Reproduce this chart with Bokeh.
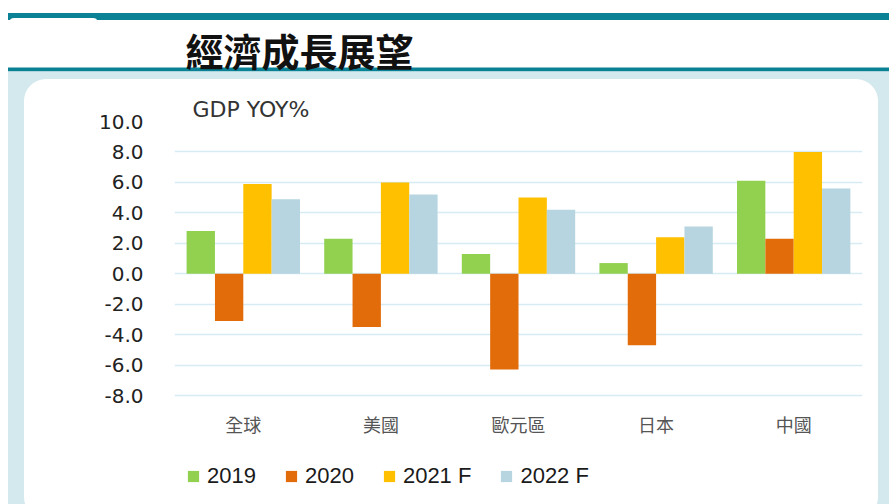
from urllib.parse import quote
from bokeh.plotting import figure
from bokeh.models import Range1d, FactorRange, FixedTicker, Title, Legend, LegendItem
from bokeh.core.properties import value
from bokeh.transform import dodge
from bokeh.embed import file_html
from bokeh.resources import INLINE

# ---- data ----
categories = ["全球", "美國", "歐元區", "日本", "中國"]
series_names = ["2019", "2020", "2021 F", "2022 F"]
v2019 = [2.8, 2.3, 1.3, 0.7, 6.1]
v2020 = [-3.1, -3.5, -6.3, -4.7, 2.3]
v2021 = [5.9, 6.0, 5.0, 2.4, 8.0]
v2022 = [4.9, 5.2, 4.2, 3.1, 5.6]
y_ticks = [-8, -6, -4, -2, 0, 2, 4, 6, 8, 10]
y_tick_labels = ["-8.0", "-6.0", "-4.0", "-2.0", "0.0", "2.0", "4.0", "6.0", "8.0", "10.0"]
title_text = "經濟成長展望"
unit_text = "GDP YOY%"

colors = ["#92d050", "#e36c0a", "#ffc000", "#b7d5e0"]
series_values = [v2019, v2020, v2021, v2022]

W, H = 889, 504
TOP, LEFT, RIGHT = 121, 174, 27
FRAME_W = W - LEFT - RIGHT
FRAME_H = H - TOP
Y_MAX, Y_LOW_TICK = 10, -8
PX_PER_UNIT = 274 / (Y_MAX - Y_LOW_TICK)          # 10.0 .. -8.0 spans 274 px
Y_MIN = Y_MAX - FRAME_H / PX_PER_UNIT             # frame extends down to hold labels + legend
CAT_LABEL_Y = Y_LOW_TICK - 28 / PX_PER_UNIT       # category labels just below the -8 line

# decorative background (teal rules, light-blue band, white rounded panel)
bg_svg = (
    f"<svg xmlns='http://www.w3.org/2000/svg' width='{W}' height='{H}'>"
    f"<rect x='8' y='13' width='{W}' height='7' fill='#0b8196'/>"
    "<rect x='10' y='18' width='87' height='5' rx='4' fill='white'/>"
    f"<rect x='8' y='67.5' width='{W}' height='4' fill='#0b8196'/>"
    f"<rect x='8' y='71.5' width='{W}' height='{H}' fill='#d3e9ee'/>"
    "<rect x='24' y='79' width='854' height='440' rx='22' fill='white'/>"
    "</svg>"
)
bg_url = "url(\"data:image/svg+xml;utf8," + quote(bg_svg) + "\")"

p = figure(frame_width=FRAME_W, frame_height=FRAME_H,
           x_range=FactorRange(*categories), y_range=Range1d(Y_MIN, Y_MAX),
           output_backend="svg", toolbar_location=None, x_axis_location=None,
           min_border_left=LEFT, min_border_right=RIGHT, min_border_top=TOP, min_border_bottom=0,
           styles={"background-image": bg_url, "background-repeat": "no-repeat",
                   "background-size": f"{W}px {H}px"})
p.background_fill_color = None
p.border_fill_color = None
p.outline_line_color = None

# ---- bars ----
src = {"cat": categories}
for name, vals in zip(series_names, series_values):
    src[name] = vals
offsets = [-0.309, -0.103, 0.103, 0.309]
renderers = []
for name, col, off in zip(series_names, colors, offsets):
    r = p.vbar(x=dodge("cat", off, range=p.x_range), top=name, bottom=0, width=0.206,
               source=src, fill_color=col, line_color=None)
    renderers.append(r)

# ---- category labels (on the categorical scale) ----
p.text(x=categories, y=[CAT_LABEL_Y] * len(categories), text=categories,
       text_align="center", text_baseline="middle",
       text_font=value("Noto Sans CJK TC"), text_font_size="18px", text_color="#555555")

# ---- y axis ----
p.yaxis.ticker = FixedTicker(ticks=y_ticks)
p.yaxis.major_label_overrides = {t: l for t, l in zip(y_ticks, y_tick_labels)}
p.yaxis.axis_line_color = None
p.yaxis.major_tick_line_color = None
p.yaxis.major_tick_out = 0
p.yaxis.major_tick_in = 0
p.yaxis.minor_tick_line_color = None
p.yaxis.minor_tick_out = 0
p.yaxis.major_label_standoff = 31
p.yaxis.major_label_text_font = "DejaVu Sans"
p.yaxis.major_label_text_font_size = "20px"
p.yaxis.major_label_text_color = "#222222"

p.xgrid.grid_line_color = None
p.ygrid.grid_line_color = "#d6ebf3"
p.ygrid.grid_line_width = 1.5

# ---- titles ----
p.title.text = title_text
p.title.align = "left"
p.title.offset = 11
p.title.standoff = 35
p.title.text_font = "Noto Sans CJK TC"
p.title.text_font_size = "38px"
p.title.text_font_style = "bold"
p.title.text_color = "#111111"

p.add_layout(Title(text=unit_text, align="left", offset=18, standoff=0,
                   text_font="DejaVu Sans", text_font_style="normal",
                   text_font_size="22px", text_color="#333333"), "above")

# ---- legend ----
legend = Legend(items=[LegendItem(label=n, renderers=[r]) for n, r in zip(series_names, renderers)],
                orientation="horizontal", location=(12, 15),
                label_text_font="Liberation Sans", label_text_font_size="22px",
                label_text_color="#1a1a1a", glyph_width=14, glyph_height=14,
                label_standoff=7, spacing=28, padding=0, margin=0,
                border_line_color=None, background_fill_alpha=0)
p.add_layout(legend)

open("out.html", "w").write(file_html(p, INLINE))
